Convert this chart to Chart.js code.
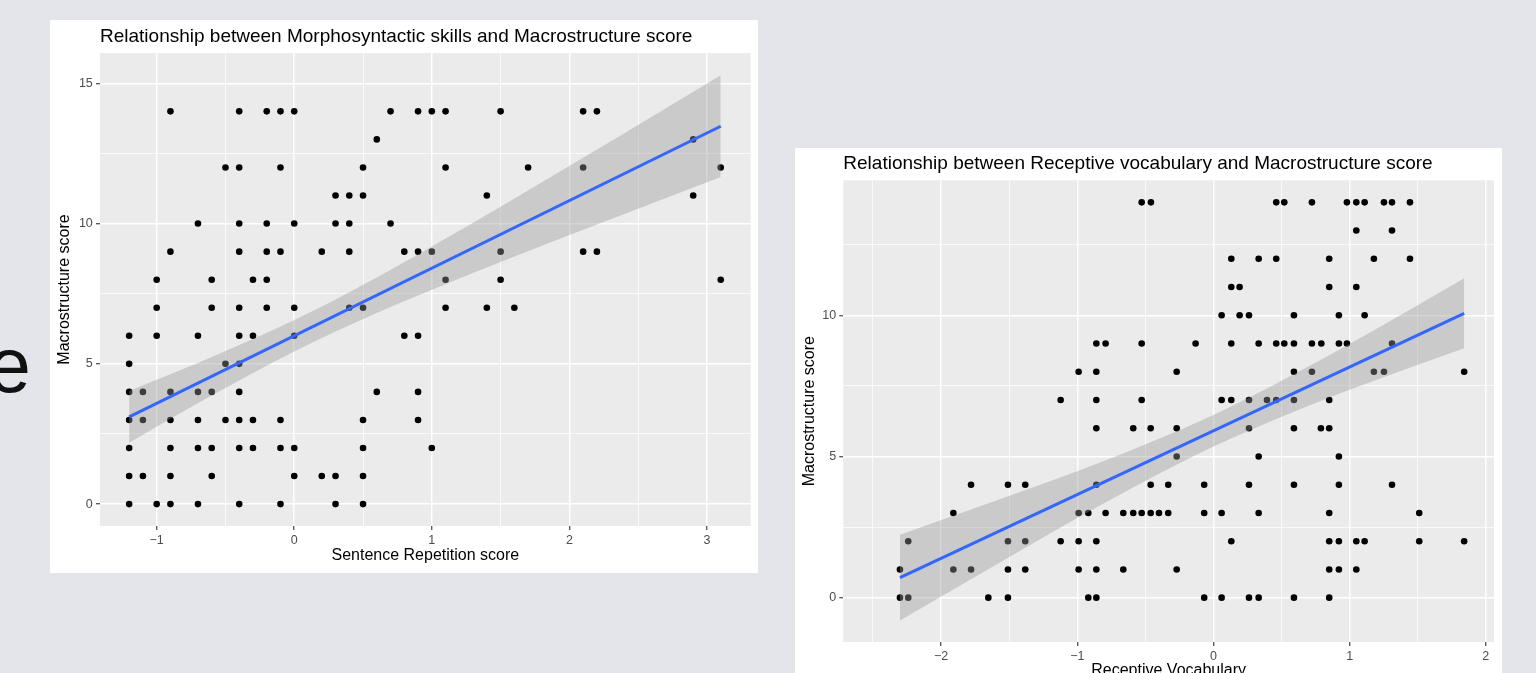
<!DOCTYPE html>
<html>
<head>
<meta charset="utf-8">
<script src="https://cdn.jsdelivr.net/npm/chart.js@4.4.1/dist/chart.umd.min.js"></script>
<style>
  html, body { margin: 0; padding: 0; overflow: hidden; }
  body { width: 1536px; height: 673px; background: #e4e5ea; position: relative; font-family: "Liberation Sans", Arial, sans-serif; }
  .panel { position: absolute; background: #fff; }
  .panel canvas { display: block; }
  #leftPanel { left: 50px; top: 20px; width: 708px; height: 553px; }
  #rightPanel { left: 795px; top: 148px; width: 707px; height: 541px; }
  .slide-letter { position: absolute; left: -12px; top: 327px; font-size: 77px; line-height: 77px; color: #111; }
</style>
</head>
<body>
<div class="slide-letter">e</div>
<div class="panel" id="leftPanel"><canvas id="leftChart" width="708" height="553"></canvas></div>
<div class="panel" id="rightPanel"><canvas id="rightChart" width="707" height="541"></canvas></div>
<script>
const FONT = '"Liberation Sans", Arial, sans-serif';

// macrostructure score rows, top to bottom (same for both plots)
const macroLevels = [14, 13, 12, 11, 10, 9, 8, 7, 6, 5, 4, 3, 2, 1, 0];

// left plot: sentence repetition scores found on each macrostructure row
const sentenceRepByLevel = [
  [-0.9, -0.4, -0.2, -0.1, 0, 0.7, 0.9, 1.0, 1.1, 1.5, 2.1, 2.2],
  [0.6, 2.9],
  [-0.5, -0.4, -0.1, 0.5, 1.1, 1.7, 2.1, 3.1],
  [0.3, 0.4, 0.5, 1.4, 2.9],
  [-0.7, -0.4, -0.2, 0, 0.3, 0.4, 0.7],
  [-0.9, -0.4, -0.2, -0.1, 0.2, 0.4, 0.8, 0.9, 1.0, 1.5, 2.1, 2.2],
  [-1.0, -0.6, -0.3, -0.2, 1.1, 1.5, 3.1],
  [-1.0, -0.6, -0.4, -0.2, 0, 0.4, 0.5, 1.1, 1.4, 1.6],
  [-1.2, -1.0, -0.7, -0.4, -0.3, 0, 0.8, 0.9],
  [-1.2, -0.5, -0.4],
  [-1.2, -1.1, -0.9, -0.7, -0.6, -0.4, 0.6, 0.9],
  [-1.2, -1.1, -0.9, -0.7, -0.5, -0.4, -0.3, -0.1, 0.5, 0.9],
  [-1.2, -0.9, -0.7, -0.6, -0.4, -0.3, -0.1, 0, 0.5, 1.0],
  [-1.2, -1.1, -0.9, -0.6, 0, 0.2, 0.3, 0.5],
  [-1.2, -1.0, -0.9, -0.7, -0.4, -0.1, 0.3, 0.5]
];
// fitted line and its 95% band
const repFitX = [-1.2, 3.1];
const repFitY = [3.11, 13.47];
const repBandX = [-1.2, -0.6, 0, 0.6, 1.2, 1.8, 2.4, 3.1];
const repBandLow = [2.19, 3.87, 5.44, 6.81, 8.04, 9.21, 10.34, 11.66];
const repBandHigh = [4.03, 5.24, 6.56, 8.08, 9.74, 11.47, 13.22, 15.29];
const repXTicks = [-1, 0, 1, 2, 3];
const repXLabels = ['\u22121', '0', '1', '2', '3'];
const repXMinor = [-0.5, 0.5, 1.5, 2.5];
const repYTicks = [0, 5, 10, 15];
const repYLabels = ['0', '5', '10', '15'];
const repYMinor = [2.5, 7.5, 12.5];

// right plot: receptive vocabulary scores on each macrostructure row
const vocabByLevel = [
  [-0.527, -0.459, 0.461, 0.520, 0.723, 0.980, 1.049, 1.110, 1.252, 1.311, 1.443],
  [1.049, 1.311],
  [0.131, 0.332, 0.461, 0.850, 1.178, 1.443],
  [0.131, 0.192, 0.850, 1.049],
  [0.060, 0.192, 0.261, 0.591, 0.921, 1.110],
  [-0.860, -0.792, -0.527, -0.131, 0.131, 0.332, 0.461, 0.520, 0.591, 0.723, 0.792, 0.921, 0.980, 1.311],
  [-0.990, -0.860, -0.270, 0.591, 0.723, 1.178, 1.252, 1.841],
  [-1.122, -0.860, -0.527, 0.060, 0.131, 0.261, 0.393, 0.461, 0.591, 0.850],
  [-0.860, -0.589, -0.461, -0.270, 0.261, 0.591, 0.789, 0.850],
  [-0.270, 0.332, 0.921],
  [-1.780, -1.509, -1.382, -0.860, -0.461, -0.332, -0.068, 0.261, 0.591, 0.921, 1.311],
  [-1.910, -0.990, -0.919, -0.792, -0.662, -0.589, -0.527, -0.461, -0.400, -0.332, -0.068, 0.060, 0.332, 0.850, 1.511],
  [-2.241, -1.509, -1.382, -1.122, -0.990, -0.860, 0.131, 0.850, 0.921, 1.049, 1.110, 1.511, 1.841],
  [-2.302, -1.910, -1.780, -1.509, -1.382, -0.990, -0.860, -0.662, -0.270, 0.850, 0.921, 1.049],
  [-2.302, -2.241, -1.653, -1.509, -0.919, -0.860, -0.068, 0.060, 0.261, 0.332, 0.591, 0.850]
];
const vocabFitX = [-2.302, 1.841];
const vocabFitY = [0.71, 10.07];
const vocabBandX = [-2.302, -1.6, -0.8, 0, 0.8, 1.4, 1.841];
const vocabBandLow = [-0.81, 1.16, 3.35, 5.35, 6.99, 8.07, 8.83];
const vocabBandHigh = [2.23, 3.43, 4.85, 6.47, 8.45, 10.08, 11.31];
const vocabXTicks = [-2, -1, 0, 1, 2];
const vocabXLabels = ['\u22122', '\u22121', '0', '1', '2'];
const vocabXMinor = [-2.5, -1.5, -0.5, 0.5, 1.5];
const vocabYTicks = [0, 5, 10];
const vocabYLabels = ['0', '5', '10'];
const vocabYMinor = [2.5, 7.5, 12.5];

const xy = (xs, ys) => xs.map((x, i) => ({ x, y: ys[i] }));
const rowsToPoints = rows => rows.flatMap((xs, i) => xs.map(x => ({ x, y: macroLevels[i] })));

// grey panel behind the grid
const panelBg = {
  id: 'panelBg',
  beforeDraw(chart) {
    const { ctx, chartArea: a } = chart;
    ctx.save();
    ctx.fillStyle = '#ebebeb';
    ctx.fillRect(a.left, a.top, a.right - a.left, a.bottom - a.top);
    ctx.restore();
  }
};

// plot title, left aligned with the panel
const plotTitle = {
  id: 'plotTitle',
  afterDraw(chart, args, opts) {
    const { ctx, chartArea: a } = chart;
    ctx.save();
    ctx.font = '19px ' + FONT;
    ctx.fillStyle = '#000';
    ctx.textAlign = 'left';
    ctx.textBaseline = 'alphabetic';
    ctx.fillText(opts.text, a.left, a.top - opts.gap);
    ctx.restore();
  }
};

function axis({ min, max, major, labels, minor, title, fit, titlePad, horizontal }) {
  const isMajor = v => major.includes(v);
  return {
    type: 'linear',
    min, max,
    afterBuildTicks: s => { s.ticks = major.concat(minor).sort((a, b) => a - b).map(v => ({ value: v })); },
    afterFit: s => { if (horizontal) s.height = fit; else s.width = fit; },
    border: { display: false },
    grid: {
      color: '#ffffff',
      lineWidth: c => isMajor(c.tick.value) ? 1.5 : 0.75,
      drawTicks: true,
      tickLength: 4,
      tickWidth: 1.1,
      tickColor: c => isMajor(c.tick.value) ? '#333333' : 'rgba(0,0,0,0)'
    },
    ticks: {
      autoSkip: false,
      maxRotation: 0,
      padding: 3.2,
      color: '#4d4d4d',
      font: { family: FONT, size: 12.5 },
      callback: v => { const i = major.indexOf(v); return i < 0 ? '' : labels[i]; }
    },
    title: { display: true, text: title, color: '#000', font: { family: FONT, size: 16 }, padding: titlePad }
  };
}

function scatterWithFit(id, o) {
  return new Chart(document.getElementById(id), {
    type: 'line',
    data: {
      datasets: [
        { data: xy(o.fitX, o.fitY), borderColor: '#3366ff', borderWidth: 3, pointRadius: 0, fill: false, order: 0 },
        { data: xy(o.bandX, o.bandHigh), borderWidth: 0, borderColor: 'rgba(0,0,0,0)', pointRadius: 0,
          fill: '+1', backgroundColor: 'rgba(153,153,153,0.4)', cubicInterpolationMode: 'monotone', order: 1 },
        { data: xy(o.bandX, o.bandLow), borderWidth: 0, borderColor: 'rgba(0,0,0,0)', pointRadius: 0,
          fill: false, cubicInterpolationMode: 'monotone', order: 2 },
        { data: rowsToPoints(o.rows), showLine: false, pointRadius: 3.3, pointBackgroundColor: '#000',
          pointBorderWidth: 0, order: 3 }
      ]
    },
    options: {
      responsive: false,
      animation: false,
      events: [],
      layout: { padding: o.padding },
      plugins: {
        legend: { display: false },
        tooltip: { enabled: false },
        plotTitle: { text: o.title, gap: o.titleGap }
      },
      scales: { x: o.x, y: o.y }
    },
    plugins: [panelBg, plotTitle]
  });
}

scatterWithFit('leftChart', {
  title: 'Relationship between Morphosyntactic skills and Macrostructure score',
  titleGap: 11,
  padding: { left: 0, top: 33, right: 7.3, bottom: 0 },
  rows: sentenceRepByLevel,
  fitX: repFitX, fitY: repFitY,
  bandX: repBandX, bandLow: repBandLow, bandHigh: repBandHigh,
  x: axis({ min: -1.412, max: 3.318, major: repXTicks, labels: repXLabels, minor: repXMinor,
    title: 'Sentence Repetition score', fit: 47, titlePad: { top: 0, bottom: 7.4 }, horizontal: true }),
  y: axis({ min: -0.78, max: 16.08, major: repYTicks, labels: repYLabels, minor: repYMinor,
    title: 'Macrostructure score', fit: 50, titlePad: { top: 5.4, bottom: 0 }, horizontal: false })
});

scatterWithFit('rightChart', {
  title: 'Relationship between Receptive vocabulary and Macrostructure score',
  titleGap: 11.5,
  padding: { left: 0, top: 32.3, right: 8, bottom: 0 },
  rows: vocabByLevel,
  fitX: vocabFitX, fitY: vocabFitY,
  bandX: vocabBandX, bandLow: vocabBandLow, bandHigh: vocabBandHigh,
  x: axis({ min: -2.718, max: 2.06, major: vocabXTicks, labels: vocabXLabels, minor: vocabXMinor,
    title: 'Receptive Vocabulary', fit: 47, titlePad: { top: 0, bottom: 9.1 }, horizontal: true }),
  y: axis({ min: -1.57, max: 14.78, major: vocabYTicks, labels: vocabYLabels, minor: vocabYMinor,
    title: 'Macrostructure score', fit: 48.3, titlePad: { top: 5.4, bottom: 0 }, horizontal: false })
});
</script>
</body>
</html>
